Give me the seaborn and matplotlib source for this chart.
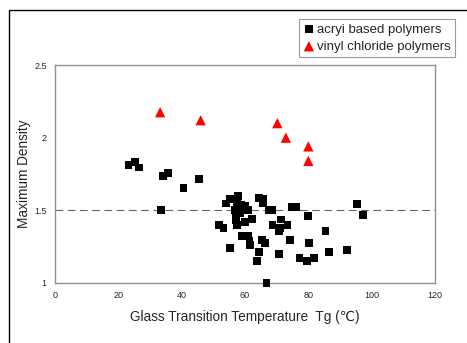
import matplotlib
matplotlib.use('Agg')
import matplotlib.pyplot as plt
from matplotlib.patches import Rectangle
from matplotlib.ticker import FuncFormatter
import numpy as np
import pandas as pd
import seaborn as sns

# acryl based polymers: Tg (C) and maximum density
ACRYL_TG = [23.2, 25.3, 26.5, 34.2, 35.6, 40.6, 45.6, 33.4,
            54.0, 55.3, 57.9, 57.6, 58.7, 60.0, 61.05, 56.8, 57.2, 58.4,
            57.2, 57.4, 60.0, 62.3, 51.9, 53.2, 55.3, 58.9, 61.05, 61.4,
            61.6, 64.5, 65.8, 65.8, 67.4, 68.4, 65.3, 66.3, 64.5, 63.9,
            66.8, 68.7, 71.3, 71.05, 70.8, 73.4, 74.2, 70.8, 74.7, 76.1,
            80.0, 80.2, 77.2, 79.5, 81.8, 85.4, 86.4, 92.1, 95.3, 97.3]
ACRYL_DENSITY = [1.81, 1.83, 1.795, 1.737, 1.756, 1.653, 1.714, 1.50,
                 1.547, 1.577, 1.60, 1.56, 1.537, 1.53, 1.50, 1.50, 1.472, 1.484,
                 1.43, 1.402, 1.421, 1.442, 1.402, 1.379, 1.24, 1.326, 1.326, 1.29,
                 1.263, 1.584, 1.577, 1.553, 1.50, 1.50, 1.298, 1.274, 1.216, 1.153,
                 1.0, 1.402, 1.437, 1.379, 1.356, 1.402, 1.298, 1.198, 1.523, 1.523,
                 1.46, 1.274, 1.174, 1.153, 1.174, 1.36, 1.216, 1.226, 1.542, 1.47]

# vinyl chloride polymers
VINYL_TG = [33.2, 46.0, 70.2, 72.9, 80.0, 80.0]
VINYL_DENSITY = [2.175, 2.12, 2.10, 2.0, 1.94, 1.84]

X_TICKS = [0, 20, 40, 60, 80, 100, 120]
Y_TICKS = [1, 1.5, 2, 2.5]
REF_DENSITY = 1.5

sns.set_style('white')
plt.rcParams['font.family'] = ['Liberation Sans', 'DejaVu Sans']

acryl = pd.DataFrame({'Tg': ACRYL_TG, 'Density': ACRYL_DENSITY})
vinyl = pd.DataFrame({'Tg': VINYL_TG, 'Density': VINYL_DENSITY})

fig = plt.figure(figsize=(4.67, 3.43), dpi=100)
ax = fig.add_axes([55 / 467, 60 / 343, 380 / 467, 218 / 343])

ax.axhline(REF_DENSITY, color='#666666', linestyle=(0, (7, 4)), linewidth=0.8, zorder=1)

sns.scatterplot(data=acryl, x='Tg', y='Density', marker='s', s=32, color='black',
                edgecolor='none', label='acryi based polymers', ax=ax, zorder=3, clip_on=False)
sns.scatterplot(data=vinyl, x='Tg', y='Density', marker='^', s=55, color='#ff0000',
                edgecolor='none', label='vinyl chloride polymers', ax=ax, zorder=3)

ax.set_xlim(0, 120)
ax.set_ylim(1, 2.5)
ax.set_xticks(X_TICKS)
ax.set_yticks(Y_TICKS)
ax.yaxis.set_major_formatter(FuncFormatter(lambda v, _: f'{v:g}'))
ax.tick_params(direction='in', length=3, width=0.8, color='#888888',
               labelsize=6.5, pad=6)
for sp in ax.spines.values():
    sp.set_color('#909090')
    sp.set_linewidth(1.0)

ax.set_xlabel('Glass Transition Temperature  Tg (℃)', fontsize=9.8, labelpad=7)
ax.set_ylabel('Maximum Density', fontsize=9.8, labelpad=2)

leg = ax.legend(loc='upper left', bbox_to_anchor=(299 / 467, 1 - 19 / 343),
                bbox_transform=fig.transFigure, frameon=True, fancybox=False,
                fontsize=9.5, handletextpad=0.2, handlelength=0.8,
                borderpad=0.35, labelspacing=0.35, borderaxespad=0)
leg.get_frame().set_edgecolor('#808080')
leg.get_frame().set_linewidth(0.8)

# outer chart frame (partly visible)
fig.add_artist(Rectangle((9 / 467, -0.5), 2.0, (343 - 10) / 343 + 0.5,
                         transform=fig.transFigure, fill=False,
                         edgecolor='black', linewidth=1.0))

fig.savefig('out.png', dpi=100)
